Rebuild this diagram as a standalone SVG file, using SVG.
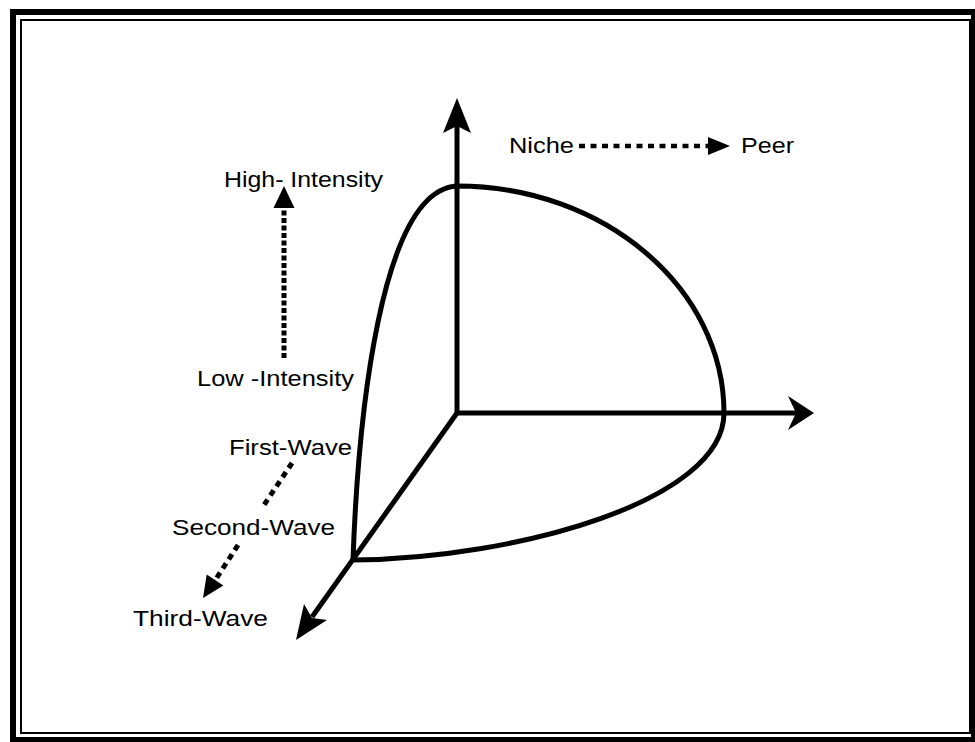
<svg xmlns="http://www.w3.org/2000/svg" width="975" height="742" viewBox="0 0 975 742">
<style>
  .lbl { font-family: "Liberation Sans", Arial, sans-serif; font-size: 22px; fill: #000; }
  .axis { stroke: #000; stroke-width: 5; fill: none; }
  .curve { stroke: #000; stroke-width: 5; fill: none; stroke-linejoin: round; }
  .dot { stroke: #000; fill: none; }
  .head { fill: #000; stroke: none; }
</style>
<rect width="975" height="742" fill="#fff"/>
<g id="frame">
  <rect x="13" y="12" width="961" height="728" fill="none" stroke="#000" stroke-width="6"/>
  <rect x="21" y="20" width="949" height="713" fill="none" stroke="#000" stroke-width="2"/>
</g>
<g id="surface">
  <path class="curve" d="M457,186 C604,186 724,288 724,413 C724,500 520,558 353,560 C358,420 380,190 457,186 Z"/>
</g>
<g id="connectors">
  <g id="axis-vertical">
    <line class="axis" x1="457" y1="415" x2="457" y2="126"/>
    <polygon class="head" points="457,98 443,133 457,126 471,133"/>
  </g>
  <g id="axis-horizontal">
    <line class="axis" x1="455" y1="413" x2="798" y2="413"/>
    <polygon class="head" points="814,413 788,396 796,413 788,430"/>
  </g>
  <g id="axis-diagonal">
    <line class="axis" x1="457" y1="413" x2="312" y2="617"/>
    <polygon class="head" points="296,640 304,604 312,618 327,620"/>
  </g>
  <g id="arrow-intensity">
    <line class="dot" x1="284" y1="358" x2="284" y2="208" stroke-width="5" stroke-dasharray="5 2.5"/>
    <polygon class="head" points="284,186 273.5,208 294.5,208"/>
  </g>
  <g id="arrow-niche-peer">
    <line class="dot" x1="579" y1="146" x2="708" y2="146" stroke-width="4.5" stroke-dasharray="6 5.5"/>
    <polygon class="head" points="730,146 708,137 708,155"/>
  </g>
  <g id="arrow-wave">
    <line class="dot" x1="292" y1="463" x2="262" y2="508" stroke-width="5" stroke-dasharray="6 5"/>
    <line class="dot" x1="238" y1="545" x2="216" y2="579" stroke-width="5" stroke-dasharray="6 5"/>
    <polygon class="head" points="203,598 206.7,574.5 223.4,585.5"/>
  </g>
</g>
<g id="label-high"><text class="lbl" x="224" y="187" textLength="159" lengthAdjust="spacingAndGlyphs">High- Intensity</text></g>
<g id="label-low"><text class="lbl" x="197" y="386" textLength="157" lengthAdjust="spacingAndGlyphs">Low -Intensity</text></g>
<g id="label-niche"><text class="lbl" x="509" y="153" textLength="65" lengthAdjust="spacingAndGlyphs">Niche</text></g>
<g id="label-peer"><text class="lbl" x="741" y="153" textLength="53" lengthAdjust="spacingAndGlyphs">Peer</text></g>
<g id="label-first"><text class="lbl" x="229" y="455" textLength="123" lengthAdjust="spacingAndGlyphs">First-Wave</text></g>
<g id="label-second"><text class="lbl" x="172" y="535" textLength="163" lengthAdjust="spacingAndGlyphs">Second-Wave</text></g>
<g id="label-third"><text class="lbl" x="133" y="626" textLength="135" lengthAdjust="spacingAndGlyphs">Third-Wave</text></g>
</svg>
